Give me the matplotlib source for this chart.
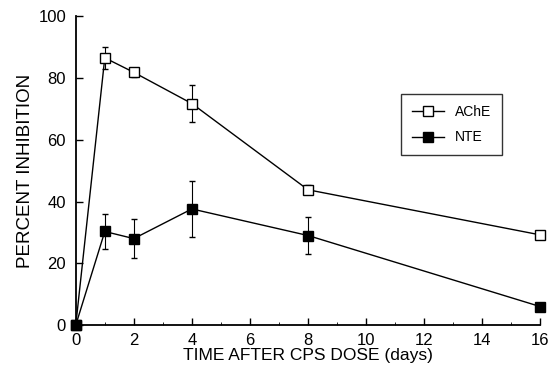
import matplotlib
matplotlib.use('Agg')
import matplotlib.pyplot as plt
from matplotlib.ticker import MultipleLocator

plt.rcParams['font.family'] = ['Liberation Sans', 'DejaVu Sans']

days = [0, 1, 2, 4, 8, 16]
ache = [0, 86.5, 81.8, 71.7, 43.8, 29.2]
ache_err = [0, 3.6, 1.5, 6.0, 1.5, 0]
nte = [0, 30.3, 28.0, 37.6, 29.0, 6.0]
nte_err = [0, 5.8, 6.3, 9.2, 6.0, 0]

fig = plt.figure(figsize=(5.53, 3.75), dpi=100)
ax = fig.add_axes([0.137, 0.133, 0.84, 0.824])

# error bars first, then the lines with markers (keeps legend clean)
ax.errorbar(days, ache, yerr=ache_err, fmt='none', ecolor='black',
            capsize=2.5, elinewidth=0.8, clip_on=False, zorder=2)
ax.errorbar(days, nte, yerr=nte_err, fmt='none', ecolor='black',
            capsize=2.5, elinewidth=0.8, clip_on=False, zorder=2)
ax.plot(days, ache, color='black', lw=1, marker='s', ms=7,
        mfc='white', mec='black', mew=1, label='AChE', clip_on=False, zorder=3)
ax.plot(days, nte, color='black', lw=1, marker='s', ms=7,
        mfc='black', mec='black', label='NTE', clip_on=False, zorder=3)

ax.set_xlim(0, 16)
ax.set_ylim(0, 100)
ax.xaxis.set_major_locator(MultipleLocator(2))
ax.xaxis.set_minor_locator(MultipleLocator(1))
ax.yaxis.set_major_locator(MultipleLocator(20))
ax.tick_params(direction='in', labelsize=12, length=5, width=1)
ax.tick_params(axis='x', pad=6)
ax.tick_params(axis='y', pad=7)
ax.tick_params(which='minor', direction='in', length=2.5)
ax.spines['top'].set_visible(False)
ax.spines['right'].set_visible(False)
ax.spines['left'].set_linewidth(1.3)
ax.spines['bottom'].set_linewidth(1.3)

ax.set_xlabel('TIME AFTER CPS DOSE (days)', fontsize=12.5, labelpad=0)
ax.set_ylabel('PERCENT INHIBITION', fontsize=13.5, labelpad=3)

leg = ax.legend(loc='upper left', bbox_to_anchor=(0.685, 0.77), frameon=True,
                fancybox=False, edgecolor='black', fontsize=10, handlelength=2.3,
                borderpad=0.8, labelspacing=0.8, handletextpad=0.8)
leg.get_frame().set_linewidth(1)

plt.savefig('out.png', dpi=100)
